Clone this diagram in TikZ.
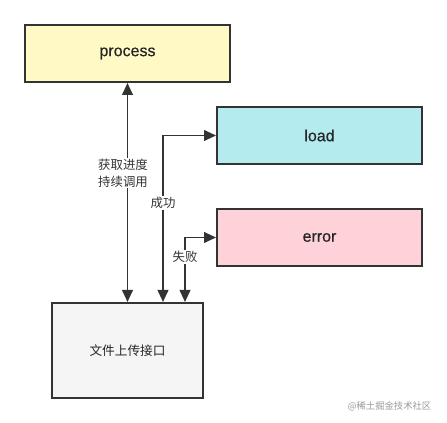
\documentclass[tikz,border=0pt]{standalone}
\usepackage{fontspec}
\setmainfont{Liberation Sans}
\newfontfamily\medfont[FakeBold=0.6]{Liberation Sans}
\newfontfamily\cjk{Noto Sans CJK SC}
\usetikzlibrary{arrows.meta}
\definecolor{procfill}{HTML}{FFF9C6}
\definecolor{loadfill}{HTML}{B3EBEF}
\definecolor{errfill}{HTML}{FFD1D9}
\definecolor{upfill}{HTML}{F5F5F5}
\definecolor{edge}{HTML}{333333}
\begin{document}
\begin{tikzpicture}[x=0.75pt,y=-0.75pt,
  box/.style={draw=edge, line width=1.5pt, inner sep=0pt, font=\medfont\fontsize{12pt}{14pt}\selectfont, text=black!85},
  conn/.style={draw=edge, line width=1.4pt, {Triangle[length=9pt,width=8pt]}-{Triangle[length=9pt,width=8pt]}},
  lbl/.style={fill=white, inner sep=1pt, font=\cjk\fontsize{9.3pt}{12.5pt}\selectfont, text=black!80, align=center}]
\useasboundingbox (0,0) rectangle (447,423);
\fill[white] (0,0) rectangle (447,423);
\node[box, fill=procfill, minimum width=205*0.75pt, minimum height=57*0.75pt] (proc) at (127.5,53.5) {process};
\node[box, fill=loadfill, minimum width=205*0.75pt, minimum height=57*0.75pt] (load) at (319.5,135.5) {load};
\node[box, fill=errfill, minimum width=205*0.75pt, minimum height=57*0.75pt] (err) at (319.5,237.5) {error};
\node[box, fill=upfill, minimum width=151*0.75pt, minimum height=95*0.75pt, font=\cjk\fontsize{9.5pt}{12pt}\selectfont] (up) at (127.5,350.5) {文件上传接口};
\coordinate (c1) at (163,135.5);
\coordinate (c2) at (185,237.5);
\draw[conn] (up.north -| proc.south) -- (proc.south);
\draw[conn] (up.north -| c1) -- (c1) -- (load.west);
\draw[conn] (up.north -| c2) -- (c2) -- (err.west);
\node[lbl] (l1) at (123,173) {获取进度\\持续调用};
\node[lbl] (l2) at (163,203) {成功};
\node[lbl] (l3) at (185,257) {失败};
\node[font=\cjk\fontsize{7pt}{9pt}\selectfont, text=black!40, anchor=east] (wm) at (436,406) {@稀土掘金技术社区};
\end{tikzpicture}
\end{document}
